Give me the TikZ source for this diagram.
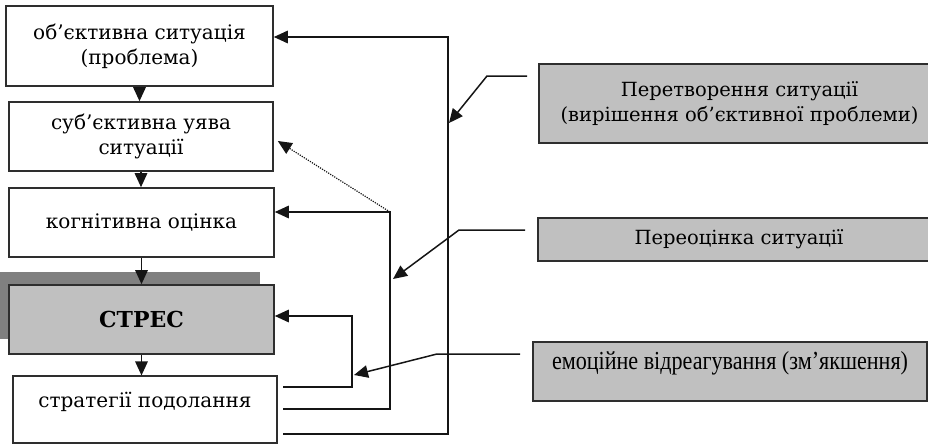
\documentclass[tikz,border=0pt]{standalone}
\usepackage{fontspec}
\setmainfont{DejaVu Serif}
\newfontfamily\timesf[FakeStretch=0.85]{Liberation Serif}
\usetikzlibrary{arrows.meta}
\definecolor{boxgray}{HTML}{C0C0C0}
\definecolor{shadowgray}{HTML}{808080}
\definecolor{edge}{HTML}{2E2E2E}
\definecolor{ink}{HTML}{151515}
\begin{document}
\begin{tikzpicture}[x=1pt,y=-1pt,
  box/.style={draw=edge, line width=1.6pt, fill=white, inner sep=0pt, align=center,
    font=\fontsize{20}{25}\selectfont},
  graybox/.style={box, fill=boxgray},
  raised/.style={text height=12pt, text depth=17pt},
  conn/.style={draw=ink, line width=1.5pt},
  arr/.style={conn, -{Triangle[length=14pt,width=12.5pt]}},
  dotarr/.style={draw=ink, line width=1.2pt, dash pattern=on 1.2pt off 1.2pt, -{Triangle[length=14pt,width=12.5pt]}}]
\useasboundingbox (0,0) rectangle (928,444);
\clip (0,0) rectangle (928,444);
% shadow behind STRES
\fill[shadowgray] (0,272) rectangle (260,339);
% left column
\node[box, minimum width=267pt, minimum height=80pt] (b1) at (139.5,46) {об’єктивна ситуація\\(проблема)};
\node[box, minimum width=264pt, minimum height=69pt] (b2) at (141,136.5) {суб’єктивна уява\\ситуації};
\node[box, minimum width=265pt, minimum height=69pt] (b3) at (141.5,222.5) {когнітивна оцінка};
\node[graybox, minimum width=265pt, minimum height=69pt, font=\fontsize{22}{26}\selectfont\bfseries] (b4) at (141.5,319.5) {СТРЕС};
\node[box, raised, minimum width=264pt, minimum height=66.5pt] (b5) at (145,409.5) {стратегії подолання};
% right column
\node[graybox, minimum width=401pt, minimum height=79pt, font=\fontsize{19.5}{25}\selectfont] (rA) at (739.5,103.5) {Перетворення ситуації\\(вирішення об’єктивної проблеми)};
\node[graybox, minimum width=402pt, minimum height=43pt, font=\fontsize{19.5}{25}\selectfont] (rB) at (739,239.5) {Переоцінка ситуації};
\node[graybox, raised, minimum width=394pt, minimum height=59pt, font=\fontsize{26}{30}\timesf] (rC) at (730,371.5) {емоційне відреагування (зм’якшення)};
% vertical flow
\draw[arr] (b1.south) -- (b1.south |- b2.north);
\draw[arr] (b2.south) -- (b2.south |- b3.north);
\draw[arr] (b3.south) -- (b3.south |- b4.north);
\draw[arr] (b4.south) -- (b4.south |- b5.north);
% feedback loops
\coordinate (s1) at (283,387);
\coordinate (k1) at (352,387);
\coordinate (k1t) at (352,316);
\coordinate (s2) at (283,409);
\coordinate (k2) at (390,409);
\coordinate (k2t) at (390,212);
\coordinate (d2) at (0,141);
\coordinate (s3) at (283,434);
\coordinate (k3) at (448,434);
\coordinate (k3t) at (448,37);
\draw[arr] (s1) -- (k1) -- (k1t) -- (b4.east |- k1t);
\draw[arr] (s2) -- (k2) -- (k2t) -- (b3.east |- k2t);
\draw[dotarr] (k2t) -- ([xshift=4pt]b2.east |- d2);
\draw[arr] (s3) -- (k3) -- (k3t) -- (b1.east |- k3t);
% pointers from right boxes
\coordinate (a0) at (527,76);
\coordinate (a1) at (487,76);
\coordinate (a2) at (449,123);
\coordinate (e0) at (525,230);
\coordinate (e1) at (459,230);
\coordinate (e2) at (393,279);
\coordinate (c0) at (520,354);
\coordinate (c1) at (437,354);
\coordinate (c2) at (354,375);
\draw[arr] (a0) -- (a1) -- (a2);
\draw[arr] (e0) -- (e1) -- (e2);
\draw[arr] (c0) -- (c1) -- (c2);
\end{tikzpicture}
\end{document}
